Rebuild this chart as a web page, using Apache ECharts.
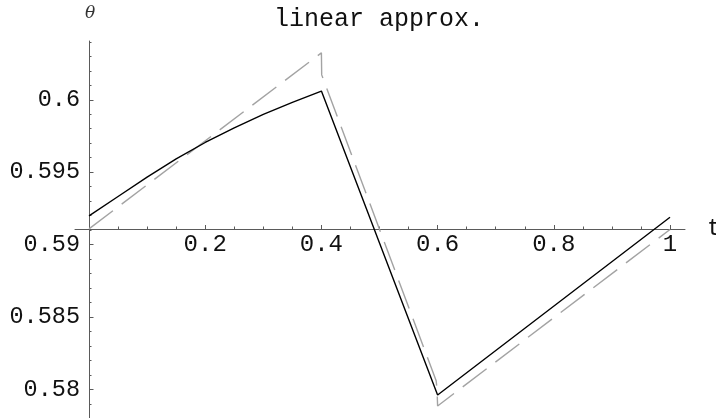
<!DOCTYPE html>
<html>
<head>
<meta charset="utf-8">
<script src="https://cdn.jsdelivr.net/npm/echarts@6/dist/echarts.min.js"></script>
<style>
html,body{margin:0;padding:0;background:#fff;}
#chart{width:716px;height:418px;}
</style>
</head>
<body>
<div id="chart"></div>
<script>
// exact solution (black, solid)
var exactT = [0, 0.05, 0.1, 0.15, 0.2, 0.25, 0.3, 0.35, 0.4, 0.6, 1.0];
var exactTheta = [0.59198, 0.59332, 0.59466, 0.59592, 0.59705, 0.59806, 0.59899, 0.59982, 0.60060, 0.57961, 0.59189];
// linear approximation (gray, dashed)
var approxT = [0, 0.4, 0.4005, 0.5975, 0.599, 0.6, 1.0];
var approxTheta = [0.59108, 0.60324, 0.60172, 0.58060, 0.58000, 0.57885, 0.59104];
// tick labels / tick positions
var xMajorTicks = [0.2, 0.4, 0.6, 0.8, 1];
var xMinorTicks = [0.05, 0.1, 0.15, 0.25, 0.3, 0.35, 0.45, 0.5, 0.55, 0.65, 0.7, 0.75, 0.85, 0.9, 0.95];
var yMajorTicks = [0.58, 0.585, 0.59, 0.595, 0.6];
var yMinorTicks = [0.579, 0.581, 0.582, 0.583, 0.584, 0.586, 0.587, 0.588, 0.589, 0.591, 0.592, 0.593, 0.594, 0.596, 0.597, 0.598, 0.599, 0.601, 0.602, 0.603, 0.604];
var titleText = 'linear approx.';
var xName = 't';
var yName = 'θ';

function zip(a, b) { return a.map(function (v, i) { return [v, b[i]]; }); }

var X_MIN = -0.0241, X_MAX = 1.0258, Y_MIN = 0.57802, Y_MAX = 0.60406;
var axisCol = '#5a5a5a';
var mono = 'Liberation Mono';

function xAxisCfg(major) {
  return {
    type: 'value', min: X_MIN, max: X_MAX, position: 'bottom', offset: -189,
    axisLine: { show: major, onZero: false, lineStyle: { color: axisCol, width: 1 } },
    axisTick: { show: true, inside: true, length: major ? 4 : 2.5,
      customValues: major ? xMajorTicks : xMinorTicks, lineStyle: { color: axisCol, width: 1 } },
    axisLabel: { show: major, customValues: xMajorTicks, margin: 4,
      fontFamily: mono, fontSize: 24, color: '#111' },
    splitLine: { show: false },
    name: major ? xName : '', nameLocation: 'end', nameGap: 22,
    nameTextStyle: { fontFamily: mono, fontSize: 24, color: '#111', verticalAlign: 'middle' }
  };
}
function yAxisCfg(major) {
  return {
    type: 'value', min: Y_MIN, max: Y_MAX, position: 'left',
    axisLine: { show: major, onZero: true, onZeroAxisIndex: 0, lineStyle: { color: axisCol, width: 1 } },
    axisTick: { show: true, inside: true, length: major ? 4.5 : 2.5,
      customValues: major ? yMajorTicks : yMinorTicks, lineStyle: { color: axisCol, width: 1 } },
    axisLabel: { show: major, customValues: yMajorTicks, margin: -5,
      fontFamily: mono, fontSize: 23.5, color: '#111' },
    splitLine: { show: false }
  };
}

var chart = echarts.init(document.getElementById('chart'), null, { renderer: 'canvas' });
chart.setOption({
  backgroundColor: '#fff',
  animation: false,
  grid: { left: 75, right: 31, top: 41, bottom: 0, containLabel: false, outerBoundsMode: 'none' },
  xAxis: [xAxisCfg(true), xAxisCfg(false)],
  yAxis: [yAxisCfg(true), yAxisCfg(false)],
  graphic: [{
    type: 'text', x: 379, y: 19,
    style: { text: titleText, fontFamily: mono, fontSize: 25, fill: '#111',
      textAlign: 'center', textVerticalAlign: 'middle' }
  }, {
    type: 'text', x: 90, y: 14,
    style: { text: yName, fontFamily: 'DejaVu Serif', fontStyle: 'italic', fontSize: 17, fill: '#333',
      textAlign: 'center', textVerticalAlign: 'middle' }
  }],
  series: [
    {
      type: 'line', xAxisIndex: 0, yAxisIndex: 0, data: zip(approxT, approxTheta),
      showSymbol: false, smooth: false, clip: false,
      lineStyle: { color: '#a3a3a3', width: 1.4, type: [30, 11] }
    },
    {
      type: 'line', xAxisIndex: 0, yAxisIndex: 0, data: zip(exactT, exactTheta),
      showSymbol: false, smooth: false, clip: false,
      lineStyle: { color: '#000', width: 1.4 }
    }
  ]
});
</script>
</body>
</html>
